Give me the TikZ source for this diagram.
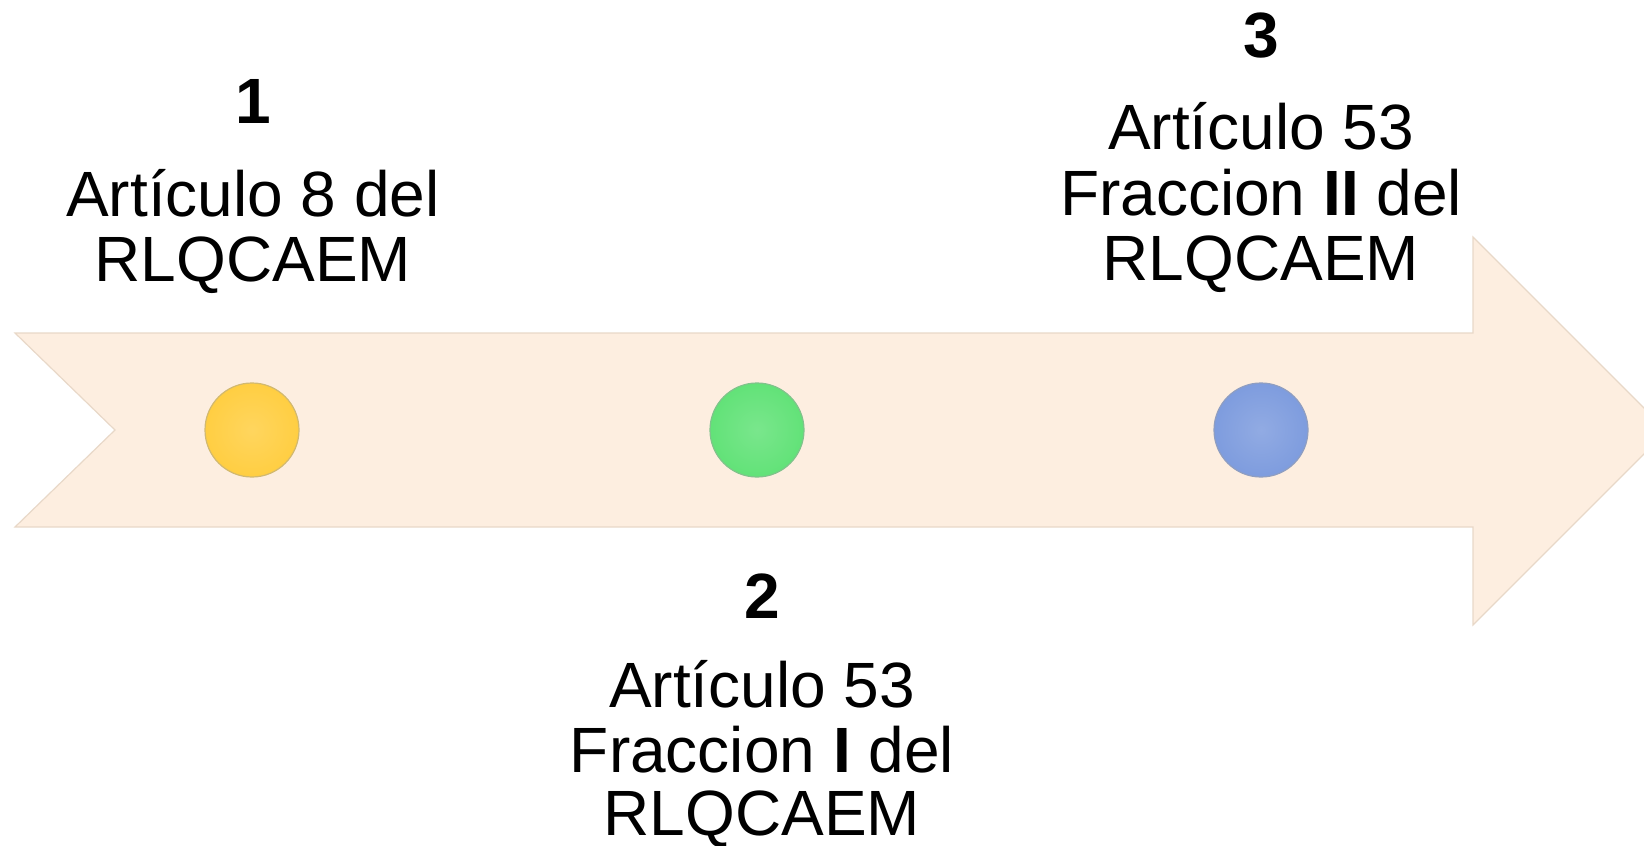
\documentclass[tikz,border=0pt]{standalone}
\usepackage{fontspec}
\setmainfont{Liberation Sans}
\begin{document}
\begin{tikzpicture}[x=1pt,y=-1pt,
  lbl/.style={inner sep=0pt,anchor=base,font=\fontsize{64}{66}\selectfont},
  num/.style={lbl,font=\fontsize{64}{66}\selectfont\bfseries},
  dot/.style={circle,minimum size=94pt,inner sep=0pt,draw=#1!75!black!70,line width=1.2pt,
    inner color=#1!85!white,outer color=#1},
]
\definecolor{arrowfill}{RGB}{253,238,224}
\definecolor{arrowedge}{RGB}{232,216,200}
\definecolor{dotyellow}{RGB}{255,206,66}
\definecolor{dotgreen}{RGB}{98,226,120}
\definecolor{dotblue}{RGB}{126,156,222}
\useasboundingbox (0,0) rectangle (1644,846);
\clip (0,0) rectangle (1644,846);

% timeline arrow with notched tail
\fill[arrowfill,draw=arrowedge,line width=1.2pt,line join=miter]
  (15,333) -- (1473,333) -- (1473,237) -- (1667,431) -- (1473,625)
  -- (1473,527) -- (15,527) -- (115,430) -- cycle;

% milestone markers
\node[dot=dotyellow] (d1) at (252,430) {};
\node[dot=dotgreen]  (d2) at (757,430) {};
\node[dot=dotblue]   (d3) at (1261,430) {};

% milestone 1
\node[num] (n1)  at (253,123) {1};
\node[lbl] (t1a) at (253,216) {Artículo 8 del};
\node[lbl] (t1b) at (253,281) {RLQCAEM};

% milestone 2
\node[num] (n2)  at (762,618) {2};
\node[lbl] (t2a) at (762,707) {Artículo 53};
\node[lbl] (t2b) at (762,772) {Fraccion \textbf{I} del};
\node[lbl] (t2c) at (762,835) {RLQCAEM};

% milestone 3
\node[num] (n3)  at (1261,57) {3};
\node[lbl] (t3a) at (1261,149) {Artículo 53};
\node[lbl] (t3b) at (1261,215) {Fraccion \textbf{II} del};
\node[lbl] (t3c) at (1261,280) {RLQCAEM};
\end{tikzpicture}
\end{document}
